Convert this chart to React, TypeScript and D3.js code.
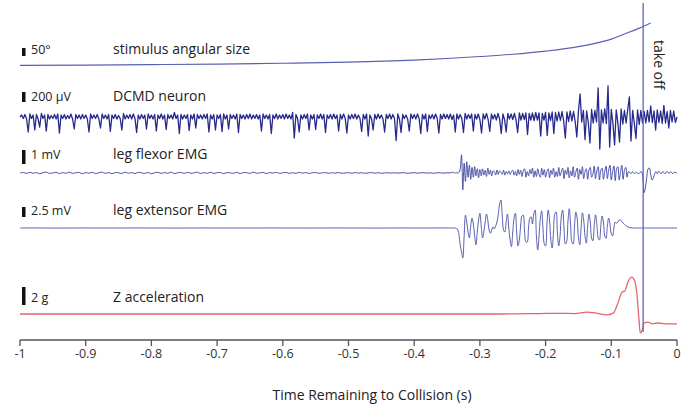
import React from 'react';
import * as d3 from 'd3';

const W = 693;
const H = 405;

// time axis
const tickValues = [-1, -0.9, -0.8, -0.7, -0.6, -0.5, -0.4, -0.3, -0.2, -0.1, 0];
const tickLabels = ['-1', '-0.9', '-0.8', '-0.7', '-0.6', '-0.5', '-0.4', '-0.3', '-0.2', '-0.1', '0'];
const takeoffTime = -0.0515;

// stimulus angular size (deg)
const stimTimes = [-1, -0.9, -0.8, -0.7, -0.6, -0.5, -0.4, -0.35, -0.3, -0.25, -0.2, -0.15, -0.12, -0.1, -0.08, -0.06, -0.05, -0.04];
const stimDeg = [3.6, 5.7, 8.6, 12, 17, 24, 37, 47, 59, 73, 93, 121, 146, 168, 200, 232, 250, 268];

// DCMD extracellular recording (µV), sampled every 2.5 ms from -1 s
const dcmdStart = -1;
const dcmdStep = 0.0025;
const dcmdUV = [
  0, 40, -30, 50, -40, -300, 60, -30, 40, -260, 50, -40, -200, 70, -30, 40, -280, 50, -40, 30,
  -30, 50, -40, 60, -320, 40, -30, 50, -40, 30, -30, 60, -40, -240, 50, -30, 40, -40, 50, -30,
  40, -40, -300, 60, -30, 40, -30, 50, -40, -220, 60, -30, 40, -40, 50, -290, 40, -30, 50, -40,
  30, -30, -260, 70, -40, 40, -30, 50, -40, 60, -30, -310, 40, -40, 50, -30, 40, -240, 60, -30,
  40, -40, 50, -280, 40, -30, 60, -40, 40, -250, 50, -30, 40, -40, 90, -30, 40, -330, 50, -40,
  40, -30, 50, -270, 40, -40, 60, -220, 50, -30, 40, -40, 50, -30, 60, -300, 40, -40, 50, -260,
  40, -30, 50, -290, 60, -40, 40, -240, 50, -30, 40, -40, 60, -310, 50, -30, 40, -40, 50, -30,
  60, -40, 40, -30, 50, -40, 40, -280, 60, -30, 40, -40, 50, -330, 40, -30, 60, -40, 40, -30,
  50, -40, 60, -30, 40, -40, 90, -420, 50, -30, -300, 40, -40, 50, -30, 60, -260, 40, -40, 50,
  -250, 40, -30, 60, -40, 50, -310, 40, -30, 50, -40, 60, -30, 40, -280, 50, -40, 60, -30, -320,
  40, -40, 50, -30, 60, -40, 40, -30, -290, 50, -40, 60, -380, 40, -30, -260, 50, -40, 60, -30,
  40, -40, -300, 50, -30, 60, -40, 50, -30, -470, 60, -40, -310, 50, -30, 40, -40, -280, 60, -30,
  50, -40, 60, -30, -330, 50, -40, 60, -290, 40, -30, 50, -40, 60, -30, -320, 50, -40, 60, -30,
  50, -40, 60, -50, 40, -300, 60, -40, 50, -30, -310, 70, -40, 50, -30, 60, -280, 50, -40, 60,
  -50, -320, 60, -40, 70, -50, -290, 60, -40, 50, -60, 70, -40, -330, 60, -50, -300, 70, -40, 60,
  -50, 70, -60, -310, 80, -60, 70, -50, 80, -350, 70, -60, 80, -70, 90, -60, 80, -380, 70, -60,
  90, -370, 80, -70, 100, -330, 90, -80, 100, -70, 110, -80, -420, 100, -90, 120, -80, 110, -90, -400,
  120, 460, -100, 130, -450, 120, -110, -520, 150, -120, 130, -100, 580, -640, 140, -120, 160, -130, 620, -600,
  150, -130, -560, 140, -120, -500, 160, -140, 130, -120, 150, 400, -480, 130, -120, -430, 140, -150, 130, -120,
  110, -120, 130, -100, 220, -110, 120, -260, 140, -110, 120, -130, 230, -120, 110, -220, 130, -100, 120, -110,
  0,
];

// leg flexor EMG (mV): quiet part every 5 ms, burst part every 2 ms
const flexorQuietStart = -1;
const flexorQuietStep = 0.005;
const flexorQuietMV = [
  0, 0.04, -0.03, 0.05, -0.02, 0.03, -0.05, 0.02, 0.06, -0.03, 0.01, 0.05, -0.04, 0.03, -0.02, 0.06, -0.03, 0.02, 0.04, -0.05,
  0.03, -0.01, 0.05, -0.04, 0.02, 0.06, -0.02, 0.03, -0.05, 0.04, 0.01, -0.03, 0.06, -0.02, 0.03, -0.04, 0.05, 0.01, -0.03, 0.04,
  -0.05, 0.02, 0.05, -0.03, 0.03, -0.02, 0.06, -0.04, 0.02, 0.04, -0.03, 0.05, -0.02, 0.01, 0.06, -0.04, 0.03, -0.02, 0.05, -0.03,
  0.02, 0.04, -0.05, 0.03, 0.01, -0.02, 0.05, -0.04, 0.03, 0.02, -0.03, 0.06, -0.02, 0.01, 0.04, -0.04, 0.03, -0.01, 0.05, -0.03,
  0.02, 0.04, -0.03, 0.02, -0.02, 0.04, -0.01, 0.03, -0.03, 0.02, 0.03, -0.02, 0.01, 0.03, -0.02, 0.02, -0.01, 0.03, -0.02, 0.01,
  0.02, -0.02, 0.03, -0.01, 0.02, -0.02, 0.01, 0.03, -0.01, 0.02, -0.02, 0.01, 0.02, -0.01, 0.02, -0.01, 0.01, 0.02, -0.02, 0.01,
  0.02, -0.01, 0.01, 0.02, -0.01, 0.01, -0.02, 0.02, 0.01, -0.01, 0.02, 0.01,
];
const flexorBurstStart = -0.34;
const flexorBurstStep = 0.002;
const flexorBurstMV = [
  0.05, -0.04, 0.06, -0.02, 0.04,
  0.3, 1.3, -1.2, 0.7, -0.6, 0.8, -0.3, 0.55,
  -0.45, 0.4, -0.3, 0.45, -0.2, 0.3, -0.35, 0.25,
  -0.2, 0.3, -0.15, 0.2, -0.25, 0.35, -0.1, 0.2, -0.2, 0.15,
  0.1, -0.15, 0.2, -0.1, 0.15, 0.05, -0.1, 0.2, -0.15, 0.1,
  -0.05, 0.15, -0.1, 0.1, 0.2, -0.15, 0.1, -0.2, 0.25, -0.1,
  0.2, -0.25, 0.15, 0.3, -0.3, 0.1, -0.2, 0.25, -0.05, 0.35,
  -0.3, 0.15, -0.25, 0.3, -0.1, -0.3, 0.35, -0.15, 0.25, -0.3,
  0.1, 0.3, -0.35, 0.2, -0.1, 0.35, -0.3, 0.1, -0.25, 0.4,
  -0.2, 0.1, 0.35, -0.4, 0.2, -0.1, 0.4, -0.35, 0.15, -0.2,
  0.45, -0.3, 0.05, 0.35, -0.45, 0.25, -0.1, 0.45, -0.4, 0.1,
  0.3, -0.45, 0.2, 0.4, -0.3, -0.1, 0.5, -0.4, 0.15, 0.45,
  -0.5, 0.2, 0.35, -0.45, 0.1, 0.5, -0.4, 0.2, 0.55, -0.5,
  0.1, 0.5, -0.55, 0.3, 0.45, -0.5, 0.05, 0.55, -0.45, 0.2,
  0.4, -0.3, 0.1, 0.05, -0.05, 0.08, 0.02, -0.04, 0.06, 0,
  -0.05, 0.04, 0.1, -0.3, -1.4, -1.0, -0.3, 0.3, 0.35, -0.1, -0.5, -0.35, -0.05, 0.1, -0.05, 0.12, 0.02, -0.06, 0.1, 0.04,
  -0.05, 0.1, 0.06, -0.04, 0.08, 0.02, -0.05, 0.07, 0.03, 0,
];

// leg extensor EMG (mV)
const extensorQuietStart = -1;
const extensorQuietStep = 0.02;
const extensorQuietMV = [
  0, 0.02, 0, -0.02, 0, 0.01, 0, -0.01, 0, 0.02, 0, 0, -0.02, 0, 0.01, 0, 0,
  -0.01, 0, 0.02, 0, 0, -0.01, 0, 0.01, 0, 0, -0.02, 0, 0.01, 0, 0, 0.02,
];
const extensorBurstStart = -0.34;
const extensorBurstStep = 0.002;
const extensorBurstMV = [
  0, 0, -0.1, -0.3, -1.5,
  -4.2, -6, -7.5, -2, 3.2,
  1.5, -1, -2.5, 0.5, 2.5,
  1, -2, -4.2, -1, 2,
  3.7, 0.5, -2.5, -1, 1.5,
  3.5, 2, -0.5, -1.3, -0.5,
  0.3, -0.2, 0.5, 1.5, 3.5,
  6, 7, 3, -0.5, -1,
  1.5, 3.5, 0, -3, -4.7,
  -1, 2.5, 3.7, -1, -4.5,
  -3, 0.5, 3, 3.2, -1,
  -3.5, -3.5, 0, 2.5, 2.8,
  1, 3.5, 4.5, -2, -5.5,
  -2, 2.5, 4.3, 0, -4,
  -4.5, 1, 4.5, 2, -3,
  -5, -1, 3.5, 4, -1.5,
  -4.5, -2, 3, 4.5, 0,
  -4, -3.5, 1.5, 4.8, 1,
  -3.5, -4, 0.5, 4, 2.5,
  -2.5, -4.2, 0, 3.8, 2,
  -2, -3.8, 0.5, 3.5, 1.5,
  -2.5, -3.2, 0.5, 3.3, 1,
  -2.5, -3, 0.5, 3, 1.5,
  -2, -2.6, 0.5, 2.5, 1,
  -1.5, -2, 0, 1.5, 1.2,
  1.5, 2, 2, 1.6, 1.2,
  0.9, 0.6, 0.4, 0.2, 0.1,
  0.05, 0, 0, 0, 0,
  0, 0, 0, 0, 0, 0, 0, 0, 0, 0,
  0, 0, 0, 0, 0, 0, 0, 0, 0, 0,
  0, 0, 0, 0, 0, 0, 0, 0, 0, 0, 0,
];

// Z acceleration (g)
const accelTimes = [
  -1, -0.878, -0.726, -0.574, -0.422, -0.269, -0.209, -0.178, -0.155, -0.137, -0.125, -0.107, -0.097,
  -0.09, -0.084, -0.079, -0.075, -0.069, -0.064, -0.061, -0.058, -0.056, -0.053, -0.05, -0.044, -0.038,
  -0.029, -0.018, 0,
];
const accelG = [
  0, 0, 0, 0, 0, 0, 0.05, 0.08, 0.05, 0.2, 0.12, -0.1, 0.1,
  1.2, 2.4, 2.6, 3.5, 4.1, 3.6, 2.2, -0.5, -2.1, -1.8, -1.0, -0.9, -1.1,
  -1.0, -1.1, -1.1,
];

const series = (start: number, step: number, values: number[]) =>
  values.map((v, i) => [start + i * step, v] as [number, number]);

const x = d3.scaleLinear().domain([-1, 0]).range([20, 677]);

const traces = [
  {
    name: 'stimulus angular size', unit: '50°', barValue: 50, barPx: 8, baseline: 66, barTop: 48, textBase: 54,
    color: '#5a5fb4', width: 1.1, curve: d3.curveMonotoneX,
    points: stimTimes.map((t, i) => [t, stimDeg[i]] as [number, number]),
  },
  {
    name: 'DCMD neuron', unit: '200 µV', barValue: 200, barPx: 10, baseline: 117, barTop: 92, textBase: 101,
    color: '#262a8c', width: 1.3, curve: d3.curveLinear,
    points: series(dcmdStart, dcmdStep, dcmdUV),
  },
  {
    name: 'leg flexor EMG', unit: '1 mV', barValue: 1, barPx: 14, baseline: 173, barTop: 150, textBase: 159,
    color: '#3a3f9f', width: 0.9, curve: d3.curveCatmullRom,
    points: series(flexorQuietStart, flexorQuietStep, flexorQuietMV).concat(series(flexorBurstStart, flexorBurstStep, flexorBurstMV)),
  },
  {
    name: 'leg extensor EMG', unit: '2.5 mV', barValue: 2.5, barPx: 10, baseline: 228, barTop: 207, textBase: 215,
    color: '#4a4fa8', width: 0.9, curve: d3.curveCatmullRom,
    points: series(extensorQuietStart, extensorQuietStep, extensorQuietMV).concat(series(extensorBurstStart, extensorBurstStep, extensorBurstMV)),
  },
  {
    name: 'Z acceleration', unit: '2 g', barValue: 2, barPx: 18, baseline: 314, barTop: 287, textBase: 302,
    color: '#e4656d', width: 1.3, curve: d3.curveMonotoneX,
    points: accelTimes.map((t, i) => [t, accelG[i]] as [number, number]),
  },
];

const font = "'Open Sans', 'Noto Sans', sans-serif";

export default function App() {
  const axisY = 340;
  const xt = x(takeoffTime);
  return (
    <svg width={W} height={H} style={{ position: 'absolute', left: 0, top: 0, background: '#fff' }} fontFamily={font}>
      {traces.map(tr => {
        const y = d3.scaleLinear().domain([0, tr.barValue]).range([tr.baseline, tr.baseline - tr.barPx]);
        const line = d3.line<[number, number]>().x(d => x(d[0])).y(d => y(d[1])).curve(tr.curve);
        return (
          <g key={tr.name}>
            <path d={line(tr.points) || ''} fill="none" stroke={tr.color} strokeWidth={tr.width} strokeLinejoin="round" />
            <rect x={22} y={tr.barTop} width={3.5} height={tr.barPx} fill="#111" />
            <text x={31} y={tr.textBase} fontSize={12.5} fill="#222">{tr.unit}</text>
            <text x={113} y={tr.textBase} fontSize={14} fill="#222">{tr.name}</text>
          </g>
        );
      })}
      <line x1={xt} x2={xt} y1={3} y2={332} stroke="#5f63c6" strokeWidth={1.3} />
      <text transform={`translate(${xt + 11},40) rotate(90)`} fontSize={14} fill="#222">take off</text>
      <g>
        <line x1={x(-1)} x2={x(0)} y1={axisY} y2={axisY} stroke="#555" strokeWidth={1.3} />
        {tickValues.map((t, i) => (
          <g key={t} transform={`translate(${x(t)},0)`}>
            <line y1={axisY} y2={axisY + 6} stroke="#555" strokeWidth={1.3} />
            <text y={358} textAnchor="middle" fontSize={12.5} fill="#333">{tickLabels[i]}</text>
          </g>
        ))}
        <text x={372} y={400} textAnchor="middle" fontSize={14} fill="#222">Time Remaining to Collision (s)</text>
      </g>
    </svg>
  );
}
